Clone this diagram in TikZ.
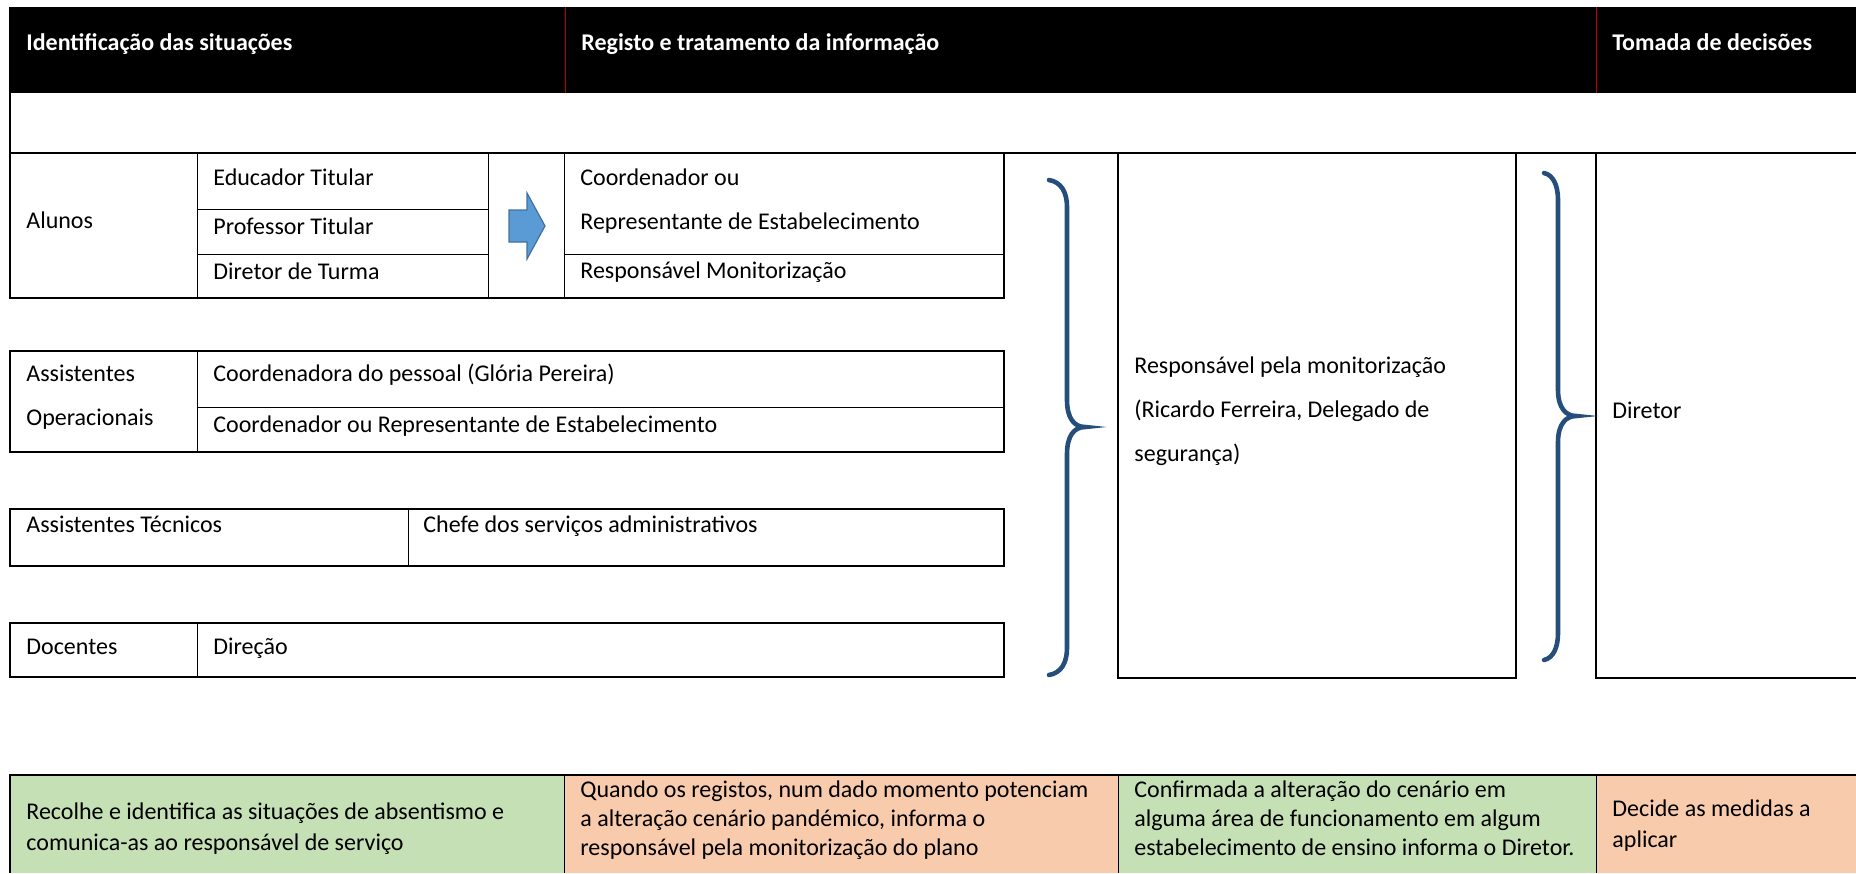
\documentclass[tikz,border=0pt]{standalone}
\usepackage{fontspec}
\setmainfont{Carlito}
\definecolor{redline}{RGB}{192,0,0}
\definecolor{bracecol}{RGB}{37,79,122}
\definecolor{arrowfill}{RGB}{91,155,213}
\definecolor{arrowline}{RGB}{65,113,156}
\definecolor{greencell}{RGB}{197,224,180}
\definecolor{orangecell}{RGB}{248,203,173}
\begin{document}
\begin{tikzpicture}[x=0.5pt,y=-0.5pt,
  box/.style={draw=black,line width=0.65pt},
  inner/.style={draw=black,line width=0.5pt},
  lbl/.style={anchor=base west,inner sep=0pt,font=\fontsize{12}{14.65}\selectfont},
  hlbl/.style={anchor=base west,inner sep=0pt,text=white,font=\fontsize{12}{14.65}\selectfont\bfseries},
  bracestyle/.style={draw=bracecol,line width=2.3pt,line cap=round},
  arrowshape/.style={fill=arrowfill,draw=arrowline,line width=0.6pt,line join=miter},
]
\useasboundingbox (0,0) rectangle (1856,873);

% header band
\fill[black] (9,7) rectangle (1856,93);
\draw[redline,line width=0.5pt] (565,7) -- (565,93);
\draw[redline,line width=0.5pt] (1596,7) -- (1596,93);
\node[hlbl] (h1) at (26,50) {Identificação das situações};
\node[hlbl] (h2) at (581,50) {Registo e tratamento da informação};
\node[hlbl] (h3) at (1612,50) {Tomada de decisões};

% empty row
\draw[box] (10,93) -- (10,153) -- (1856,153);

% Alunos block
\draw[box] (10,153) rectangle (1004,298);
\draw[inner] (197,153) -- (197,298);
\draw[inner] (488,153) -- (488,298);
\draw[inner] (564,153) -- (564,298);
\draw[inner] (197,209) -- (488,209);
\draw[inner] (197,254) -- (488,254);
\draw[inner] (564,254) -- (1004,254);
\node[lbl] (alunos) at (26,228) {Alunos};
\node[lbl] (educ) at (213,185) {Educador Titular};
\node[lbl] (prof) at (213,234) {Professor Titular};
\node[lbl] (dirt) at (213,279) {Diretor de Turma};
\node[lbl] (coord) at (580,185) {\parbox[t]{300pt}{\fontsize{12}{22}\selectfont Coordenador ou\\Representante de Estabelecimento}};
\node[lbl] (respmon) at (580,278) {Responsável Monitorização};
\draw[arrowshape] (509,210) -- (527,210) -- (527,193) -- (545,226) -- (527,259) -- (527,242) -- (509,242) -- cycle;

% Assistentes Operacionais
\draw[box] (10,351) rectangle (1004,452);
\draw[inner] (197,351) -- (197,452);
\draw[inner] (197,407) -- (1004,407);
\node[lbl] (assop) at (26,381) {\parbox[t]{90pt}{\fontsize{12}{22}\selectfont Assistentes\\Operacionais}};
\node[lbl] (coordpes) at (213,381) {Coordenadora do pessoal (Glória Pereira)};
\node[lbl] (coordrep) at (213,432) {Coordenador ou Representante de Estabelecimento};

% Assistentes Tecnicos
\draw[box] (10,509) rectangle (1004,566);
\draw[inner] (408,509) -- (408,566);
\node[lbl] (asstec) at (26,532) {Assistentes Técnicos};
\node[lbl] (chefe) at (423,532) {Chefe dos serviços administrativos};

% Docentes
\draw[box] (10,623) rectangle (1004,677);
\draw[inner] (197,623) -- (197,677);
\node[lbl] (docentes) at (26,654) {Docentes};
\node[lbl] (direcao) at (213,654) {Direção};

% Responsavel box
\draw[box] (1118,153) rectangle (1516,678);
\node[lbl] (resp) at (1134,373) {\parbox[t]{200pt}{\fontsize{12}{22}\selectfont Responsável pela monitorização\\(Ricardo Ferreira, Delegado de\\segurança)}};

% Diretor box
\draw[box] (1596,153) -- (1596,678) -- (1856,678);
\node[lbl] (diretor) at (1612,418) {Diretor};

% braces
\draw[bracestyle] (1049,180) .. controls (1061,182) and (1067,192) .. (1067,207) -- (1067,400)
  .. controls (1067,418) and (1074,427) .. (1085,427)
  .. controls (1074,427) and (1067,436) .. (1067,454) -- (1067,648)
  .. controls (1067,663) and (1061,673) .. (1049,675);
\draw[bracestyle] (1544,173) .. controls (1553,175) and (1558,185) .. (1558,200) -- (1558,390)
  .. controls (1558,408) and (1566,416) .. (1576,416)
  .. controls (1566,416) and (1558,424) .. (1558,442) -- (1558,633)
  .. controls (1558,648) and (1553,658) .. (1544,660);

% bottom row
\fill[greencell] (10,775) rectangle (564,873);
\fill[orangecell] (564,775) rectangle (1118,873);
\fill[greencell] (1118,775) rectangle (1596,873);
\fill[orangecell] (1596,775) rectangle (1856,873);
\draw[box] (10,873) -- (10,775) -- (1856,775);
\draw[inner] (564,775) -- (564,873);
\draw[inner] (1118,775) -- (1118,873);
\draw[inner] (1596,775) -- (1596,873);
\node[lbl] (b1) at (26,819) {\parbox[t]{300pt}{\fontsize{12}{15.5}\selectfont Recolhe e identifica as situações de absentismo e\\comunica-as ao responsável de serviço}};
\node[lbl] (b2) at (580,797) {\parbox[t]{300pt}{Quando os registos, num dado momento potenciam\\a alteração cenário pandémico, informa o\\responsável pela monitorização do plano}};
\node[lbl] (b3) at (1134,797) {\parbox[t]{260pt}{Confirmada a alteração do cenário em\\alguma área de funcionamento em algum\\estabelecimento de ensino informa o Diretor.}};
\node[lbl] (b4) at (1612,816) {\parbox[t]{150pt}{\fontsize{12}{15.5}\selectfont Decide as medidas a\\aplicar}};
\end{tikzpicture}
\end{document}
